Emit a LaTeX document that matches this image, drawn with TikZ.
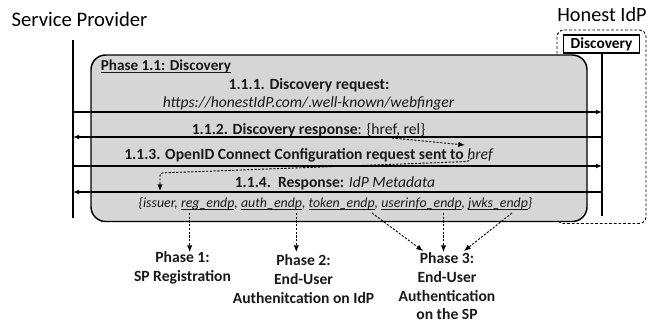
\documentclass[tikz,border=0pt]{standalone}
\usepackage{fontspec}
\setmainfont{Carlito}
\usetikzlibrary{arrows.meta}
\tikzset{
  lbl/.style={inner sep=0pt,font=\fontsize{11.7pt}{14pt}\selectfont,align=center,text=black!90},
  phaselbl/.style={inner sep=0pt,font=\fontsize{11.7pt}{14pt}\selectfont\bfseries,align=center,text=black!90},
  lifeline/.style={line width=1.6pt},
  msg/.style={line width=1pt,-{Latex[length=4.5pt,width=3.6pt]}},
  dots/.style={line width=0.7pt,dash pattern=on 1.6pt off 1.2pt,-{Latex[length=5pt,width=4pt]}},
}
\newsavebox{\ulbox}
\newcommand{\ul}[1]{\sbox{\ulbox}{#1}\rlap{\rule[-1.6pt]{\wd\ulbox}{0.6pt}}\usebox{\ulbox}}
\begin{document}
\begin{tikzpicture}[x=0.75pt,y=-0.75pt]
\useasboundingbox (0,0) rectangle (657,322);
\draw[rounded corners=5pt,line width=0.7pt,dash pattern=on 2pt off 1.5pt] (557,223.5) rectangle (646,30);
\node[draw,line width=1pt,fill=white,minimum width=57pt,minimum height=13.5pt,inner sep=0pt,font=\fontsize{11.5pt}{13pt}\selectfont\bfseries] (disc) at (601.5,44) {Discovery};
\draw[line width=1.1pt,fill=black!16,rounded corners=11pt] (91,55) rectangle (587,221.5);
\coordinate (spT) at (73,40); \coordinate (spB) at (73,218);
\coordinate (idB) at (602,216);
\draw[lifeline] (spT) -- (spB);
\draw[lifeline] (disc.south -| idB) -- (idB);
\node[inner sep=0pt,font=\fontsize{15.5pt}{18pt}\selectfont] (sp) at (79.5,19) {Service Provider};
\node[inner sep=0pt,font=\fontsize{15.2pt}{18pt}\selectfont] (idp) at (602,14.5) {Honest IdP};
\node[lbl,anchor=west,font=\fontsize{11.4pt}{13pt}\selectfont\bfseries] (ph) at (100.5,66.5) {\ul{Phase 1.1: Discovery}};
\node[lbl] (t1) at (309,85.5) {\bfseries 1.1.1. Discovery request:};
\node[lbl] (t1b) at (308.5,103.5) {\itshape https://honestIdP.com/.well-known/webfinger};
\node[lbl] (t2) at (308.5,130.5) {{\bfseries 1.1.2. Discovery response}: \{href, rel\}};
\node[lbl] (t3) at (309,155.5) {\bfseries 1.1.3. OpenID Connect Configuration request sent to \textit{\mdseries href}};
\node[lbl] (t4) at (335,183.5) {\bfseries 1.1.4.\ \ Response: \textit{\mdseries IdP Metadata}};
\node[lbl,font=\fontsize{10.4pt}{12pt}\selectfont\itshape] (t5) at (335.5,203.5) {\{issuer, \ul{reg\_endp}, \ul{auth\_endp}, \ul{token\_endp}, \ul{userinfo\_endp}, \ul{jwks\_endp}\}};
\draw[msg] (spT |- 0,112) coordinate (a1) -- (a1 -| idB);
\draw[msg] (idB |- 0,137) coordinate (a2) -- (a2 -| spT);
\draw[msg] (spT |- 0,166) coordinate (a3) -- (a3 -| idB);
\draw[msg] (idB |- 0,192) coordinate (a4) -- (a4 -| spT);
\coordinate (d1a) at (392,138); \coordinate (d1b) at (465,145);
\draw[dots] (d1a) -- (d1b);
\coordinate (d2a) at (472,158); \coordinate (d2b) at (468,161.5); \coordinate (d2c) at (160,173); \coordinate (d2d) at (160,191);
\draw[dots,rounded corners=2pt] (d2a) -- (d2b) -- (d2c) -- (d2d);
\node[phaselbl] (p1) at (182.5,268) {Phase 1:\\SP Registration};
\node[phaselbl] (p2) at (303.5,279) {Phase 2:\\End-User\\Authenitcation on IdP};
\node[phaselbl] (p3) at (447,286.5) {Phase 3:\\End-User\\Authentication\\on the SP};
\coordinate (e1) at (189.7,213); \coordinate (e2) at (296.3,213);
\coordinate (e3) at (372,213); \coordinate (e4) at (443.5,213); \coordinate (e5) at (512,213);
\coordinate (h1) at (189.7,252); \coordinate (h2) at (296.3,252);
\coordinate (h3) at (423,251); \coordinate (h4) at (443.5,252); \coordinate (h5) at (464,251);
\draw[dots] (e1) -- (h1);
\draw[dots] (e2) -- (h2);
\draw[dots] (e3) -- (h3);
\draw[dots] (e4) -- (h4);
\draw[dots] (e5) -- (h5);
\end{tikzpicture}
\end{document}
